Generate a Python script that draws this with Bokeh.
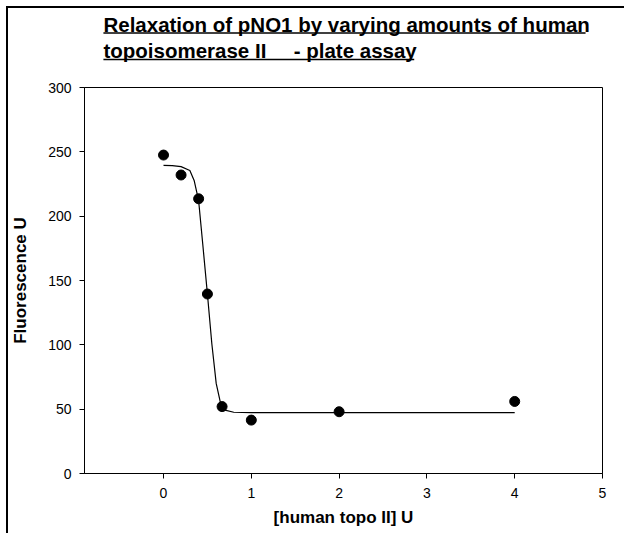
from bokeh.plotting import figure
from bokeh.layouts import column
from bokeh.models import Range1d, FixedTicker, Div
from bokeh.core.properties import value
from bokeh.embed import file_html
from bokeh.resources import INLINE

# measured data points
conc_u = [0, 0.2, 0.4, 0.5, 0.667, 1, 2, 4]
fluor_u = [247.5, 232, 213.5, 139.5, 52, 41.5, 48, 56]

# fitted curve
fit_x = [0, 0.1, 0.2, 0.3, 0.35, 0.4, 0.45, 0.5, 0.55, 0.6, 0.65, 0.7, 0.8, 1, 2, 4]
fit_y = [239.5, 239.3, 238.5, 235.5, 227.5, 212, 176, 139.5, 101, 70, 54.5, 49.2, 47.6, 47.3, 47.3, 47.3]

x_ticks = [0, 1, 2, 3, 4, 5]
y_ticks = [0, 50, 100, 150, 200, 250, 300]

title_line1 = "Relaxation of pNO1 by varying amounts of human"
title_line2a = "topoisomerase II"
title_line2b = "- plate assay"

FONT = "Liberation Sans"
W = 616
TH = 68
MH = 457
OY = 8  # page y of title figure top

# ---- top frame line ----
topline = Div(text="", width=W, height=2, margin=0, styles={"background-color": "black"})

# ---- title figure (coordinates = page pixels; frame aligned to main frame) ----
t = figure(width=W, height=TH, x_range=Range1d(82, 602), y_range=Range1d(OY + TH, OY),
           output_backend="svg", toolbar_location=None,
           min_border_left=74, min_border_right=22, min_border_top=0, min_border_bottom=0)
t.axis.visible = False
t.grid.visible = False
t.outline_line_color = None
tfs = "20.5px"
common = dict(text_font=value(FONT), text_font_size=tfs, text_font_style="bold",
              text_baseline="alphabetic", text_align="left", text_color="black")
t.text(x=[101], y=[24], text=[title_line1], **common)
t.text(x=[101], y=[50], text=[title_line2a], **common)
t.text(x=[292], y=[50], text=[title_line2b], **common)
t.segment(x0=[101, 101], y0=[32.5, 59], x1=[585, 413], y1=[32.5, 59],
          line_color="black", line_width=1.6)

# ---- main figure ----
p = figure(width=W, height=MH, x_range=Range1d(-0.9, 5), y_range=Range1d(0, 300),
           output_backend="svg", toolbar_location=None,
           min_border_left=74, min_border_right=22, min_border_top=11, min_border_bottom=60)
p.grid.visible = False
p.outline_line_color = "black"
p.outline_line_width = 1

p.line(fit_x, fit_y, line_color="black", line_width=1.2)
p.scatter(conc_u, fluor_u, size=10, color="black")

for ax in (p.xaxis[0], p.yaxis[0]):
    ax.axis_line_color = "black"
    ax.major_tick_line_color = "black"
    ax.major_tick_out = 5
    ax.major_tick_in = 0
    ax.minor_tick_line_color = None
    ax.major_label_text_font = FONT
    ax.major_label_text_font_size = "14px"
    ax.major_label_text_color = "black"
    ax.axis_label_text_font = FONT
    ax.axis_label_text_font_size = "17px"
    ax.axis_label_text_font_style = "bold"
    ax.axis_label_text_color = "black"

p.xaxis.ticker = FixedTicker(ticks=x_ticks)
p.yaxis.ticker = FixedTicker(ticks=y_ticks)
p.xaxis.axis_label = "[human topo II] U"
p.yaxis.axis_label = "Fluorescence U"
p.xaxis.major_label_standoff = 9
p.yaxis.major_label_standoff = 8
p.xaxis.axis_label_standoff = 7
p.yaxis.axis_label_standoff = 15

layout = column(topline, t, p, spacing=0,
                styles={"border-left": "2px solid black",
                        "margin-left": "6px", "margin-top": "6px"})

open("out.html", "w").write(file_html(layout, INLINE))
